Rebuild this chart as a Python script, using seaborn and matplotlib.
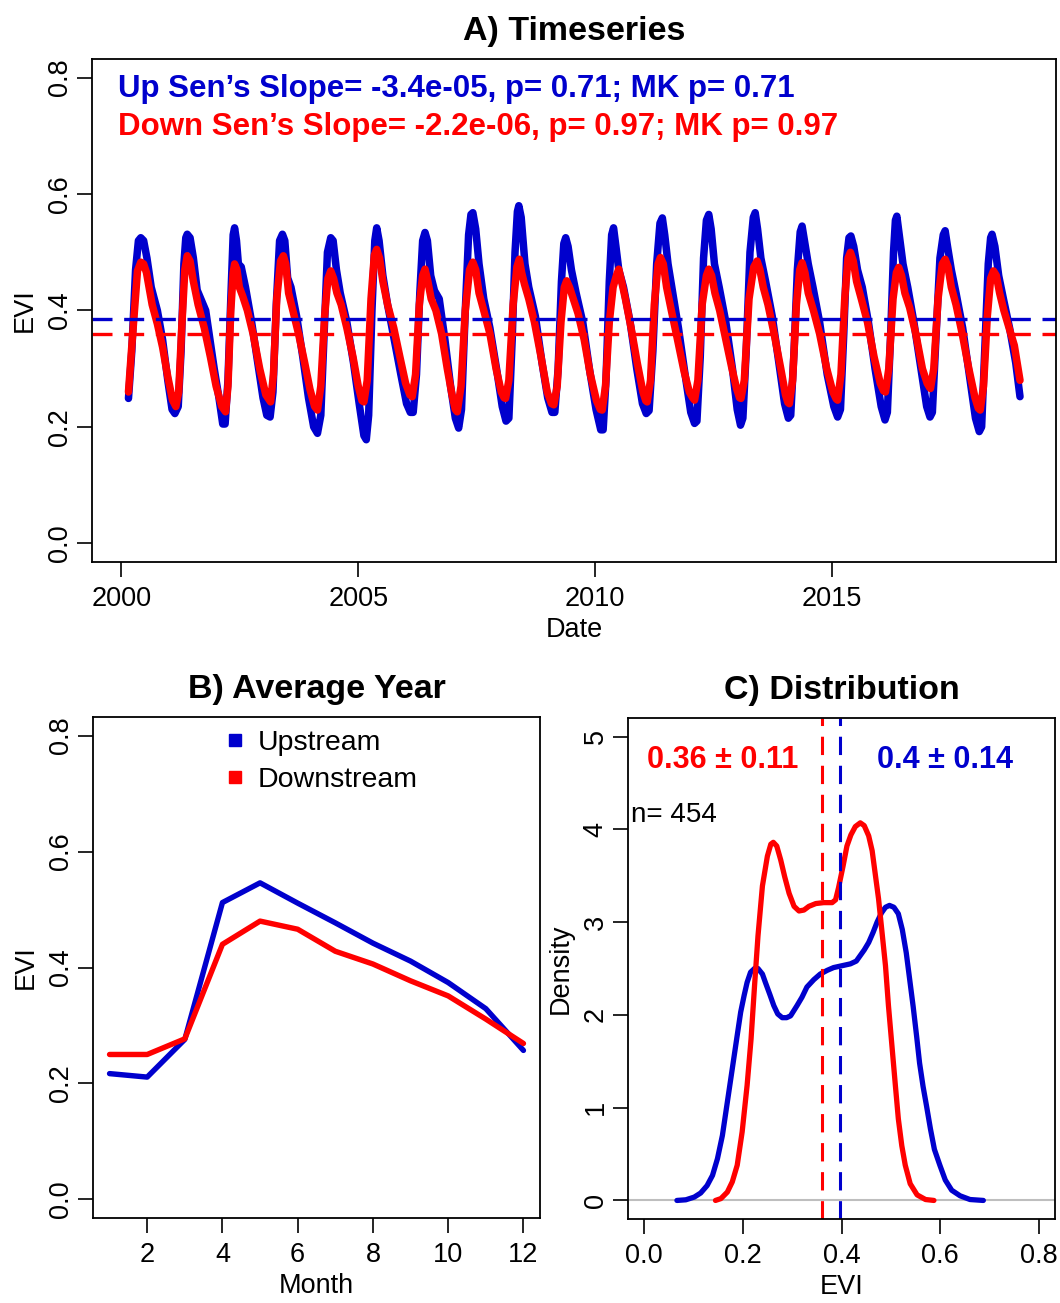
import matplotlib
matplotlib.use("Agg")
import matplotlib.pyplot as plt
import seaborn as sns
from matplotlib.lines import Line2D

# ---------------- data ----------------
# A) Timeseries (decimal year, EVI)
up_dates = [
    2000.15, 2000.22, 2000.30, 2000.36, 2000.41, 2000.47, 2000.54, 2000.63, 2000.76, 2000.87, 2000.98, 2001.07,
    2001.13, 2001.20, 2001.26, 2001.32, 2001.36, 2001.39, 2001.45, 2001.52, 2001.60, 2001.78, 2001.96, 2002.06,
    2002.14, 2002.19, 2002.25, 2002.31, 2002.36, 2002.39, 2002.43, 2002.47, 2002.53, 2002.62, 2002.75, 2002.88, 2002.99, 2003.07,
    2003.14, 2003.20, 2003.27, 2003.34, 2003.40, 2003.45, 2003.51, 2003.58, 2003.70, 2003.83, 2003.95, 2004.06,
    2004.14, 2004.21, 2004.28, 2004.35, 2004.42, 2004.47, 2004.54, 2004.62, 2004.76, 2004.90, 2005.02, 2005.12,
    2005.17, 2005.22, 2005.29, 2005.35, 2005.39, 2005.44, 2005.52, 2005.62, 2005.76, 2005.90, 2006.02, 2006.10,
    2006.16, 2006.23, 2006.30, 2006.36, 2006.41, 2006.46, 2006.53, 2006.61, 2006.71, 2006.83, 2006.95, 2007.05,
    2007.12, 2007.18, 2007.26, 2007.33, 2007.38, 2007.42, 2007.48, 2007.55, 2007.65, 2007.78, 2007.92, 2008.04,
    2008.12, 2008.18, 2008.25, 2008.31, 2008.36, 2008.39, 2008.44, 2008.52, 2008.60, 2008.74, 2008.88, 2009.00,
    2009.09, 2009.15, 2009.22, 2009.29, 2009.34, 2009.38, 2009.43, 2009.50, 2009.60, 2009.74, 2009.88, 2010.02,
    2010.12, 2010.17, 2010.23, 2010.30, 2010.35, 2010.39, 2010.44, 2010.50, 2010.60, 2010.74, 2010.88, 2011.00,
    2011.08, 2011.14, 2011.22, 2011.30, 2011.37, 2011.42, 2011.47, 2011.54, 2011.64, 2011.76, 2011.90, 2012.02,
    2012.10, 2012.15, 2012.22, 2012.29, 2012.35, 2012.40, 2012.45, 2012.52, 2012.62, 2012.76, 2012.90, 2013.00,
    2013.07, 2013.12, 2013.19, 2013.27, 2013.34, 2013.38, 2013.43, 2013.50, 2013.60, 2013.74, 2013.88, 2014.00,
    2014.08, 2014.13, 2014.20, 2014.27, 2014.33, 2014.37, 2014.42, 2014.50, 2014.60, 2014.74, 2014.90, 2015.04,
    2015.12, 2015.18, 2015.25, 2015.31, 2015.36, 2015.40, 2015.46, 2015.54, 2015.64, 2015.77, 2015.91, 2016.04,
    2016.12, 2016.17, 2016.24, 2016.30, 2016.34, 2016.37, 2016.42, 2016.50, 2016.60, 2016.73, 2016.88, 2017.00,
    2017.07, 2017.12, 2017.20, 2017.28, 2017.35, 2017.39, 2017.44, 2017.52, 2017.62, 2017.76, 2017.90, 2018.03,
    2018.11, 2018.16, 2018.23, 2018.30, 2018.35, 2018.38, 2018.44, 2018.52, 2018.62, 2018.75, 2018.88, 2018.97,
]
up_evi = [
    0.249, 0.33, 0.47, 0.520, 0.525, 0.520, 0.49, 0.44, 0.40, 0.35, 0.28, 0.23,
    0.223, 0.235, 0.33, 0.48, 0.525, 0.531, 0.525, 0.49, 0.435, 0.40, 0.30, 0.25,
    0.205, 0.205, 0.28, 0.42, 0.53, 0.542, 0.52, 0.48, 0.475, 0.44, 0.38, 0.31, 0.25, 0.22,
    0.217, 0.26, 0.41, 0.52, 0.531, 0.52, 0.456, 0.44, 0.39, 0.32, 0.25, 0.20,
    0.189, 0.22, 0.36, 0.50, 0.525, 0.52, 0.47, 0.43, 0.38, 0.31, 0.24, 0.185,
    0.178, 0.22, 0.40, 0.52, 0.542, 0.52, 0.46, 0.41, 0.35, 0.29, 0.24, 0.225,
    0.225, 0.29, 0.43, 0.52, 0.534, 0.52, 0.46, 0.434, 0.42, 0.35, 0.27, 0.215,
    0.198, 0.23, 0.40, 0.53, 0.565, 0.568, 0.54, 0.48, 0.42, 0.37, 0.30, 0.235,
    0.21, 0.215, 0.35, 0.50, 0.57, 0.580, 0.56, 0.48, 0.44, 0.39, 0.31, 0.25,
    0.225, 0.225, 0.30, 0.45, 0.515, 0.525, 0.51, 0.47, 0.43, 0.38, 0.30, 0.23,
    0.195, 0.195, 0.28, 0.45, 0.53, 0.542, 0.51, 0.47, 0.44, 0.38, 0.30, 0.24,
    0.223, 0.228, 0.33, 0.48, 0.55, 0.559, 0.53, 0.48, 0.43, 0.37, 0.29, 0.225,
    0.206, 0.21, 0.32, 0.49, 0.555, 0.565, 0.54, 0.48, 0.44, 0.38, 0.30, 0.23,
    0.203, 0.215, 0.33, 0.50, 0.56, 0.568, 0.54, 0.49, 0.45, 0.39, 0.31, 0.24,
    0.215, 0.22, 0.33, 0.47, 0.535, 0.545, 0.52, 0.48, 0.44, 0.38, 0.29, 0.235,
    0.217, 0.23, 0.36, 0.49, 0.525, 0.528, 0.51, 0.47, 0.44, 0.38, 0.30, 0.235,
    0.212, 0.225, 0.36, 0.50, 0.555, 0.562, 0.53, 0.48, 0.44, 0.38, 0.30, 0.235,
    0.217, 0.225, 0.36, 0.49, 0.53, 0.537, 0.51, 0.47, 0.43, 0.37, 0.29, 0.215,
    0.192, 0.20, 0.34, 0.48, 0.525, 0.531, 0.51, 0.46, 0.42, 0.37, 0.31, 0.252,
]
down_dates = [
    2000.15, 2000.23, 2000.34, 2000.41, 2000.47, 2000.53, 2000.65, 2000.76, 2000.87, 2000.98, 2001.08, 2001.15,
    2001.21, 2001.28, 2001.34, 2001.39, 2001.45, 2001.52, 2001.62, 2001.75, 2001.88, 2002.00, 2002.12, 2002.20,
    2002.25, 2002.31, 2002.36, 2002.39, 2002.44, 2002.49, 2002.56, 2002.66, 2002.78, 2002.92, 2003.05, 2003.15,
    2003.21, 2003.28, 2003.36, 2003.42, 2003.47, 2003.53, 2003.62, 2003.74, 2003.87, 2003.98, 2004.08, 2004.14,
    2004.21, 2004.29, 2004.36, 2004.42, 2004.48, 2004.55, 2004.64, 2004.76, 2004.89, 2005.00, 2005.08, 2005.12,
    2005.19, 2005.27, 2005.34, 2005.39, 2005.45, 2005.52, 2005.62, 2005.75, 2005.88, 2006.00, 2006.09, 2006.14,
    2006.21, 2006.29, 2006.36, 2006.41, 2006.47, 2006.54, 2006.64, 2006.76, 2006.88, 2006.98, 2007.05, 2007.09,
    2007.17, 2007.26, 2007.35, 2007.42, 2007.48, 2007.55, 2007.65, 2007.78, 2007.91, 2008.02, 2008.08, 2008.11,
    2008.18, 2008.27, 2008.35, 2008.40, 2008.45, 2008.51, 2008.60, 2008.72, 2008.86, 2008.99, 2009.08, 2009.13,
    2009.20, 2009.28, 2009.35, 2009.40, 2009.46, 2009.54, 2009.64, 2009.77, 2009.90, 2010.03, 2010.11, 2010.15,
    2010.22, 2010.30, 2010.38, 2010.45, 2010.50, 2010.56, 2010.64, 2010.76, 2010.89, 2011.01, 2011.07, 2011.10,
    2011.17, 2011.25, 2011.33, 2011.38, 2011.44, 2011.51, 2011.61, 2011.74, 2011.88, 2011.99, 2012.06, 2012.10,
    2012.17, 2012.26, 2012.35, 2012.40, 2012.46, 2012.53, 2012.63, 2012.76, 2012.89, 2012.99, 2013.05, 2013.08,
    2013.15, 2013.25, 2013.35, 2013.42, 2013.48, 2013.55, 2013.65, 2013.78, 2013.92, 2014.02, 2014.07, 2014.10,
    2014.17, 2014.25, 2014.32, 2014.37, 2014.43, 2014.50, 2014.61, 2014.74, 2014.89, 2015.02, 2015.09, 2015.12,
    2015.19, 2015.27, 2015.34, 2015.39, 2015.45, 2015.52, 2015.62, 2015.75, 2015.89, 2016.02, 2016.09, 2016.13,
    2016.20, 2016.29, 2016.36, 2016.41, 2016.47, 2016.54, 2016.64, 2016.77, 2016.91, 2017.01, 2017.06, 2017.08,
    2017.15, 2017.24, 2017.33, 2017.39, 2017.45, 2017.52, 2017.62, 2017.75, 2017.89, 2018.02, 2018.09, 2018.13,
    2018.20, 2018.28, 2018.35, 2018.41, 2018.47, 2018.54, 2018.63, 2018.74, 2018.85, 2018.93, 2018.97,
]
down_evi = [
    0.260, 0.35, 0.468, 0.483, 0.480, 0.465, 0.41, 0.377, 0.337, 0.286, 0.246, 0.235,
    0.26, 0.38, 0.47, 0.494, 0.485, 0.45, 0.41, 0.37, 0.32, 0.27, 0.235, 0.226,
    0.27, 0.40, 0.465, 0.480, 0.47, 0.44, 0.425, 0.40, 0.36, 0.30, 0.255, 0.243,
    0.29, 0.42, 0.485, 0.494, 0.48, 0.43, 0.40, 0.36, 0.31, 0.265, 0.235, 0.229,
    0.27, 0.39, 0.455, 0.468, 0.455, 0.43, 0.41, 0.37, 0.32, 0.27, 0.245, 0.243,
    0.28, 0.42, 0.495, 0.505, 0.49, 0.45, 0.41, 0.37, 0.32, 0.275, 0.255, 0.252,
    0.29, 0.41, 0.46, 0.471, 0.45, 0.42, 0.40, 0.36, 0.30, 0.255, 0.23, 0.226,
    0.27, 0.40, 0.47, 0.483, 0.47, 0.43, 0.40, 0.36, 0.30, 0.26, 0.25, 0.249,
    0.28, 0.41, 0.475, 0.488, 0.465, 0.445, 0.42, 0.38, 0.32, 0.26, 0.24, 0.238,
    0.27, 0.38, 0.44, 0.451, 0.44, 0.42, 0.395, 0.35, 0.29, 0.245, 0.23, 0.229,
    0.27, 0.38, 0.44, 0.46, 0.471, 0.45, 0.42, 0.37, 0.31, 0.26, 0.245, 0.243,
    0.28, 0.41, 0.48, 0.491, 0.48, 0.44, 0.40, 0.35, 0.295, 0.26, 0.25, 0.246,
    0.28, 0.41, 0.46, 0.471, 0.46, 0.43, 0.40, 0.35, 0.30, 0.265, 0.25, 0.249,
    0.28, 0.42, 0.475, 0.485, 0.47, 0.44, 0.41, 0.36, 0.30, 0.255, 0.242, 0.240,
    0.28, 0.41, 0.47, 0.482, 0.465, 0.43, 0.40, 0.36, 0.30, 0.26, 0.248, 0.246,
    0.29, 0.42, 0.49, 0.500, 0.485, 0.45, 0.42, 0.38, 0.32, 0.275, 0.262, 0.260,
    0.30, 0.42, 0.465, 0.474, 0.46, 0.43, 0.405, 0.36, 0.30, 0.275, 0.268, 0.266,
    0.30, 0.42, 0.48, 0.488, 0.475, 0.44, 0.41, 0.36, 0.30, 0.25, 0.232, 0.229,
    0.27, 0.39, 0.455, 0.468, 0.46, 0.43, 0.40, 0.37, 0.34, 0.30, 0.280,
]
up_hline = 0.386
down_hline = 0.359

# B) Average year
months = [1, 2, 3, 4, 5, 6, 7, 8, 9, 10, 11, 12]
up_monthly = [0.217, 0.211, 0.276, 0.512, 0.546, 0.511, 0.477, 0.442, 0.411, 0.374, 0.329, 0.257]
down_monthly = [0.250, 0.250, 0.277, 0.440, 0.480, 0.466, 0.428, 0.406, 0.377, 0.351, 0.311, 0.269]

# C) Density curves
up_dens_x = [0.067, 0.085, 0.102, 0.115, 0.128, 0.139, 0.149, 0.159, 0.169, 0.179, 0.189, 0.196,
             0.203, 0.209, 0.216, 0.224, 0.231, 0.240, 0.246, 0.255, 0.263, 0.271, 0.280, 0.289,
             0.297, 0.310, 0.320, 0.330, 0.344, 0.357, 0.371, 0.384, 0.401, 0.418, 0.430, 0.438,
             0.446, 0.455, 0.464, 0.472, 0.481, 0.489, 0.497, 0.506, 0.515, 0.523, 0.531, 0.538,
             0.545, 0.552, 0.558, 0.565, 0.572, 0.580, 0.588, 0.599, 0.610, 0.623, 0.640, 0.660, 0.687]
up_dens_y = [0.0, 0.007, 0.036, 0.08, 0.16, 0.27, 0.45, 0.70, 1.06, 1.42, 1.78, 2.03,
             2.21, 2.35, 2.46, 2.50, 2.50, 2.44, 2.35, 2.22, 2.10, 2.01, 1.97, 1.97,
             1.99, 2.10, 2.19, 2.30, 2.38, 2.44, 2.48, 2.51, 2.53, 2.55, 2.58, 2.64,
             2.70, 2.78, 2.89, 3.00, 3.10, 3.16, 3.18, 3.16, 3.09, 2.92, 2.67, 2.38,
             2.09, 1.77, 1.48, 1.23, 1.02, 0.77, 0.55, 0.38, 0.22, 0.11, 0.05, 0.01, 0.0]
down_dens_x = [0.145, 0.156, 0.169, 0.179, 0.189, 0.199, 0.209, 0.217, 0.224, 0.231, 0.240, 0.250,
               0.257, 0.262, 0.269, 0.277, 0.285, 0.294, 0.304, 0.314, 0.324, 0.334, 0.348, 0.364,
               0.381, 0.388, 0.394, 0.403, 0.411, 0.419, 0.428, 0.438, 0.446, 0.455, 0.462, 0.468,
               0.475, 0.482, 0.489, 0.495, 0.502, 0.509, 0.515, 0.522, 0.529, 0.539, 0.553, 0.570, 0.587]
down_dens_y = [0.0, 0.02, 0.09, 0.20, 0.38, 0.74, 1.24, 1.74, 2.31, 2.85, 3.39, 3.71,
               3.84, 3.86, 3.82, 3.67, 3.49, 3.31, 3.17, 3.12, 3.13, 3.17, 3.20, 3.21,
               3.21, 3.24, 3.37, 3.60, 3.82, 3.94, 4.03, 4.07, 4.04, 3.93, 3.77, 3.53,
               3.25, 2.89, 2.53, 2.10, 1.67, 1.24, 0.88, 0.59, 0.38, 0.18, 0.06, 0.01, 0.0]
up_mean = 0.397
down_mean = 0.360

assert len(up_dates) == len(up_evi)
assert len(down_dates) == len(down_evi)
assert len(up_dens_x) == len(up_dens_y)
assert len(down_dens_x) == len(down_dens_y)

BLUE = "#0000CD"
RED = "#FF0000"

# ---------------- style ----------------
sns.set_theme(style="white")
plt.rcParams['font.family'] = ['Liberation Sans', 'DejaVu Sans']
plt.rcParams['axes.edgecolor'] = 'black'
plt.rcParams['axes.linewidth'] = 1.3
plt.rcParams['xtick.color'] = 'black'
plt.rcParams['ytick.color'] = 'black'
plt.rcParams['text.color'] = 'black'
plt.rcParams['axes.labelcolor'] = 'black'
plt.rcParams['axes.titlecolor'] = 'black'
plt.rcParams['xtick.labelcolor'] = 'black'
plt.rcParams['ytick.labelcolor'] = 'black'

TICK_FS = 19.5
LAB_FS = 19.5
TITLE_FS = 24.5

fig = plt.figure(figsize=(10.6, 13.03), dpi=100)
W, H = 1060.0, 1303.0


def rect(l, t, r, b):
    return [l / W, 1 - b / H, (r - l) / W, (b - t) / H]


axA = fig.add_axes(rect(92, 59, 1056, 562))
axB = fig.add_axes(rect(93, 717, 540, 1218))
axC = fig.add_axes(rect(628, 718, 1055, 1219))

dash = (0, (6, 3.5))


def style_axis(ax):
    ax.tick_params(axis='both', which='both', direction='out', length=11, width=1.2,
                   labelsize=TICK_FS, bottom=True, left=True, pad=6, colors='black')
    ax.tick_params(axis='y', pad=3)
    for lab in ax.get_yticklabels():
        lab.set_rotation(90)
        lab.set_va('center')
    for s in ax.spines.values():
        s.set_visible(True)
        s.set_color('black')
        s.set_linewidth(1.3)


# ---------------- A) Timeseries ----------------
sns.lineplot(x=up_dates, y=up_evi, ax=axA, color=BLUE, lw=5.4, estimator=None, sort=False,
             solid_joinstyle='round', solid_capstyle='round')
sns.lineplot(x=down_dates, y=down_evi, ax=axA, color=RED, lw=5.4, estimator=None, sort=False,
             solid_joinstyle='round', solid_capstyle='round')
axA.axhline(up_hline, color=BLUE, lw=2.4, linestyle=dash)
axA.axhline(down_hline, color=RED, lw=2.4, linestyle=dash)
axA.set_xlim(1999.38, 2019.73)
axA.set_ylim(-0.032, 0.832)
axA.set_xticks([2000, 2005, 2010, 2015])
axA.set_xticklabels(['2000', '2005', '2010', '2015'])
axA.set_yticks([0.0, 0.2, 0.4, 0.6, 0.8])
axA.set_yticklabels(['0.0', '0.2', '0.4', '0.6', '0.8'])
axA.set_xlabel('Date', fontsize=LAB_FS, labelpad=4)
axA.set_ylabel('EVI', fontsize=LAB_FS, labelpad=6)
axA.set_title('A) Timeseries', fontsize=TITLE_FS, fontweight='bold', pad=14)
axA.text(0.027, 0.940, "Up Sen\u2019s Slope= -3.4e-05, p= 0.71; MK p= 0.71", transform=axA.transAxes,
         color=BLUE, fontsize=22.5, fontweight='bold', ha='left', va='center')
axA.text(0.027, 0.865, "Down Sen\u2019s Slope= -2.2e-06, p= 0.97; MK p= 0.97", transform=axA.transAxes,
         color=RED, fontsize=22.5, fontweight='bold', ha='left', va='center')
style_axis(axA)

# ---------------- B) Average Year ----------------
sns.lineplot(x=months, y=up_monthly, ax=axB, color=BLUE, lw=3.9, estimator=None, sort=False,
             solid_joinstyle='round')
sns.lineplot(x=months, y=down_monthly, ax=axB, color=RED, lw=3.9, estimator=None, sort=False,
             solid_joinstyle='round')
axB.set_xlim(0.56, 12.44)
axB.set_ylim(-0.032, 0.832)
axB.set_xticks([2, 4, 6, 8, 10, 12])
axB.set_xticklabels(['2', '4', '6', '8', '10', '12'])
axB.set_yticks([0.0, 0.2, 0.4, 0.6, 0.8])
axB.set_yticklabels(['0.0', '0.2', '0.4', '0.6', '0.8'])
axB.set_xlabel('Month', fontsize=LAB_FS, labelpad=4)
axB.set_ylabel('EVI', fontsize=LAB_FS, labelpad=6)
axB.set_title('B) Average Year', fontsize=TITLE_FS, fontweight='bold', pad=14)
handles = [Line2D([], [], linestyle='none', marker='s', markersize=8.5, color=BLUE),
           Line2D([], [], linestyle='none', marker='s', markersize=8.5, color=RED)]
axB.legend(handles, ['Upstream', 'Downstream'], loc='upper left', bbox_to_anchor=(0.245, 1.02),
           frameon=False, fontsize=20.5, handlelength=0.7, handletextpad=0.45, labelspacing=0.4,
           borderaxespad=0.4)
style_axis(axB)

# ---------------- C) Distribution ----------------
axC.axhline(0, color='#BEBEBE', lw=1.5)
sns.lineplot(x=up_dens_x, y=up_dens_y, ax=axC, color=BLUE, lw=3.8, estimator=None, sort=False,
             solid_joinstyle='round', solid_capstyle='round')
sns.lineplot(x=down_dens_x, y=down_dens_y, ax=axC, color=RED, lw=3.8, estimator=None, sort=False,
             solid_joinstyle='round', solid_capstyle='round')
axC.axvline(down_mean, color=RED, lw=2.2, linestyle=dash)
axC.axvline(up_mean, color=BLUE, lw=2.2, linestyle=dash)
axC.set_xlim(-0.032, 0.832)
axC.set_ylim(-0.2, 5.2)
axC.set_xticks([0.0, 0.2, 0.4, 0.6, 0.8])
axC.set_xticklabels(['0.0', '0.2', '0.4', '0.6', '0.8'])
axC.set_yticks([0, 1, 2, 3, 4, 5])
axC.set_yticklabels(['0', '1', '2', '3', '4', '5'])
axC.set_xlabel('EVI', fontsize=LAB_FS, labelpad=4)
axC.set_ylabel('Density', fontsize=LAB_FS, labelpad=6)
axC.set_title('C) Distribution', fontsize=TITLE_FS, fontweight='bold', pad=14)
axC.text(0.222, 0.916, '0.36 \u00b1 0.11', transform=axC.transAxes, color=RED, fontsize=22,
         fontweight='bold', ha='center', va='center')
axC.text(0.742, 0.916, '0.4 \u00b1 0.14', transform=axC.transAxes, color=BLUE, fontsize=22,
         fontweight='bold', ha='center', va='center')
axC.text(0.008, 0.806, 'n= 454', transform=axC.transAxes, color='black', fontsize=20,
         ha='left', va='center')
style_axis(axC)

fig.savefig('out.png', dpi=100, facecolor='white')
